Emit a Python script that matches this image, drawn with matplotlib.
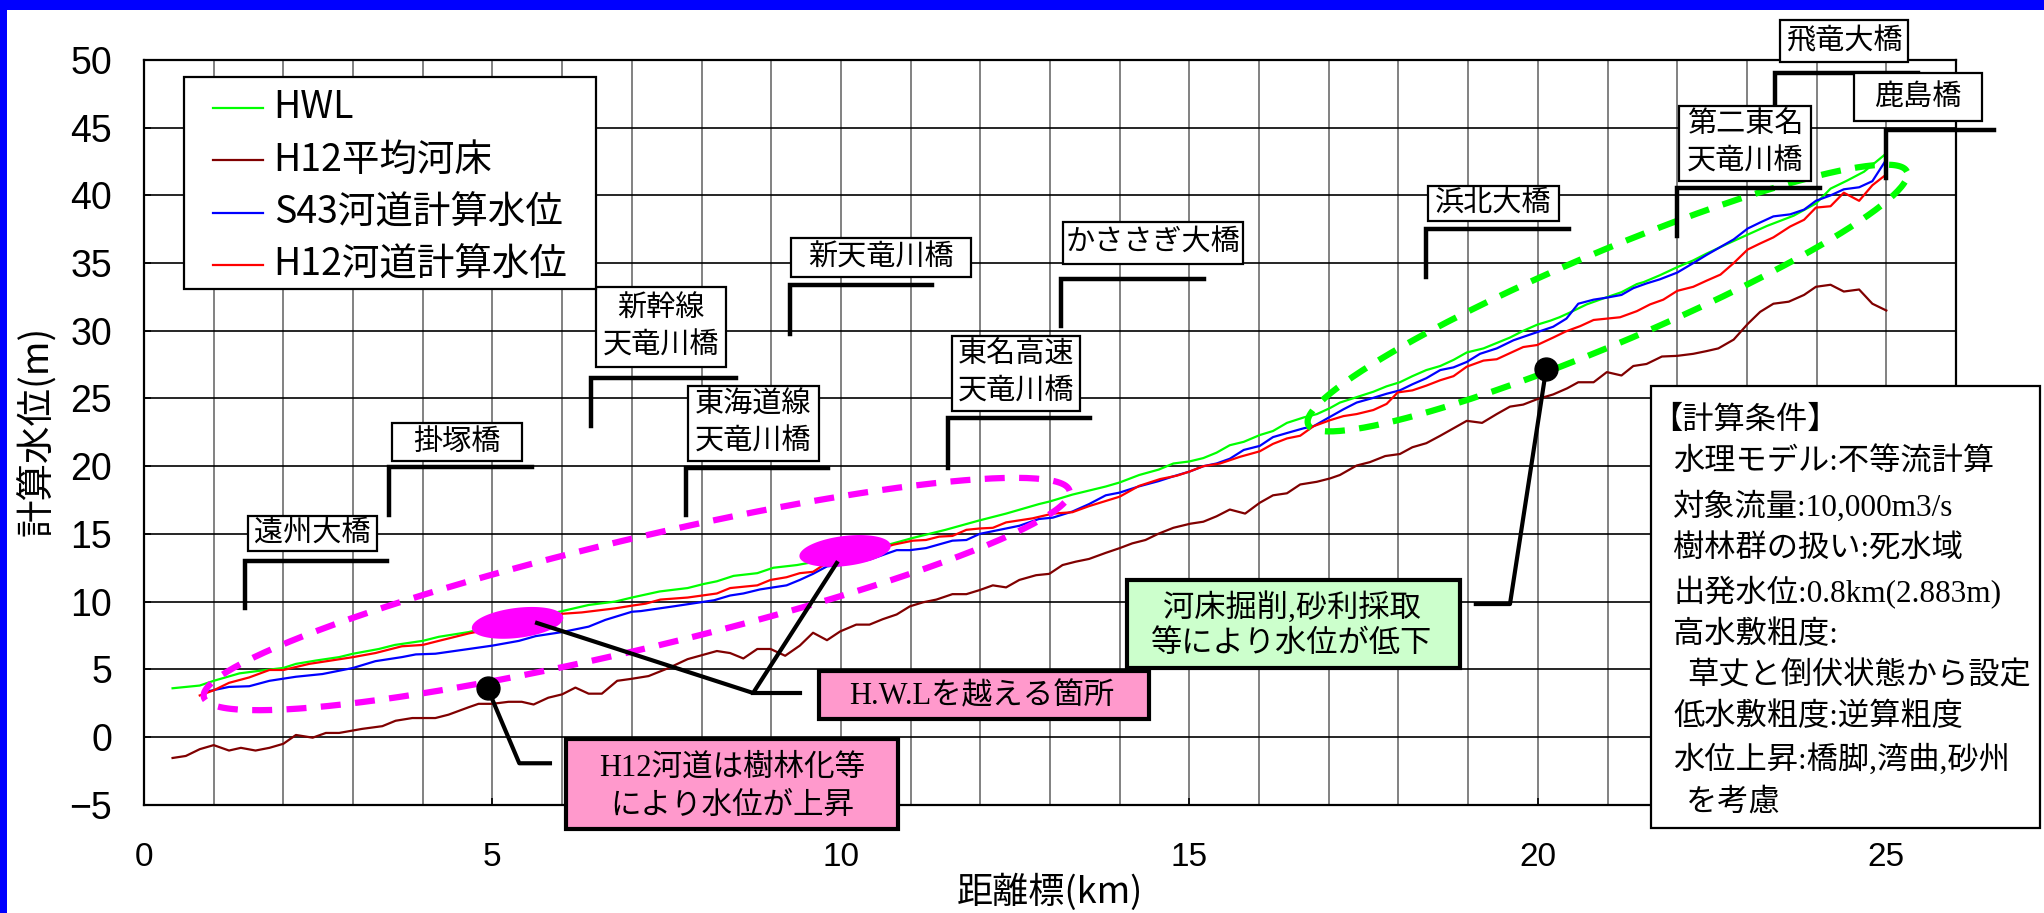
import numpy as np
import matplotlib.pyplot as plt
from matplotlib.patches import Rectangle
from matplotlib.lines import Line2D

SANS = ['Noto Sans CJK JP', 'DejaVu Sans']
MIX = ['Liberation Serif', 'Noto Sans CJK JP']   # ascii in serif, kana/kanji in gothic
plt.rcParams['font.family'] = SANS

# ---- data (km, m) ----
hwl_km = [0.41, 0.8, 1.0, 1.37, 1.75, 2.0, 2.18, 2.47, 2.8, 3.0, 3.37, 3.6, 4.0, 4.23, 4.66, 5.0, 5.5,
          6.0, 6.38, 6.76, 7.0, 7.4, 7.8, 8.03, 8.22, 8.46, 8.8, 9.03, 9.37, 10.0, 10.75, 11.03, 11.5,
          11.99, 12.37, 12.84, 13.0, 13.32, 13.8, 14.0, 14.28, 14.56, 14.77, 15.0, 15.2, 15.39, 15.58,
          15.78, 16.01, 16.2, 16.4, 16.64, 16.83, 17.02, 17.16, 17.4, 17.64, 17.83, 18.02, 18.2, 18.4,
          18.6, 18.79, 18.98, 19.22, 19.41, 19.6, 19.79, 19.99, 20.18, 20.31, 20.46, 20.7, 21.0, 21.2,
          21.42, 21.52, 21.75, 22.0, 22.23, 22.42, 22.71, 23.01, 23.29, 23.67, 23.99, 24.2, 24.44,
          24.68, 25.0]
hwl = [3.6, 3.8, 4.15, 4.7, 4.95, 5.1, 5.4, 5.65, 5.9, 6.15, 6.5, 6.8, 7.1, 7.4, 7.75, 8.2, 8.7,
       9.3, 9.75, 10.0, 10.3, 10.75, 11.0, 11.3, 11.5, 11.9, 12.1, 12.5, 12.7, 13.3, 14.3, 14.7, 15.3,
       16.0, 16.5, 17.2, 17.4, 17.9, 18.5, 18.8, 19.35, 19.75, 20.2, 20.35, 20.6, 21.0, 21.55,
       21.8, 22.3, 22.6, 23.2, 23.6, 23.85, 24.3, 24.7, 25.1, 25.5, 25.9, 26.2, 26.65, 27.1,
       27.4, 27.85, 28.4, 28.7, 29.1, 29.5, 30.0, 30.45, 30.75, 31.0, 31.35, 31.95, 32.5, 32.85,
       33.45, 33.6, 34.1, 34.7, 35.2, 35.7, 36.4, 37.1, 37.75, 38.5, 39.4, 40.5, 41.1,
       41.75, 43.1]

bed_km = [0.41, 0.6, 0.8, 1.0, 1.22, 1.39, 1.6, 1.8, 2.0, 2.18, 2.42, 2.61, 2.8, 3.13, 3.42, 3.61,
          3.85, 4.18, 4.37, 4.66, 4.8, 5.0, 5.23, 5.42, 5.59, 5.8, 6.0, 6.19, 6.38, 6.57, 6.79, 7.0,
          7.24, 7.53, 7.8, 8.22, 8.41, 8.6, 8.8, 8.99, 9.2, 9.41, 9.6, 9.8, 9.99, 10.22, 10.41, 10.6,
          10.8, 10.99, 11.18, 11.37, 11.6, 11.8, 11.99, 12.18, 12.37, 12.56, 12.8, 12.99, 13.18,
          13.37, 13.56, 13.8, 14.0, 14.18, 14.37, 14.55, 14.77, 15.01, 15.2, 15.39, 15.58, 15.8,
          16.01, 16.2, 16.4, 16.59, 16.83, 17.02, 17.16, 17.4, 17.59, 17.81, 18.02, 18.2, 18.4, 18.6,
          18.79, 18.98, 19.2, 19.41, 19.6, 19.79, 19.99, 20.22, 20.42, 20.58, 20.8, 20.99, 21.2,
          21.37, 21.56, 21.78, 22.0, 22.23, 22.42, 22.59, 22.81, 23.01, 23.19, 23.38, 23.6, 23.82,
          23.99, 24.2, 24.39, 24.61, 24.8, 25.0]
bed = [-1.55, -1.4, -0.9, -0.6, -1.0, -0.8, -1.0, -0.8, -0.5, 0.15, -0.05, 0.3, 0.3, 0.6, 0.8, 1.2,
       1.4, 1.4, 1.65, 2.2, 2.45, 2.45, 2.6, 2.6, 2.4, 2.9, 3.15, 3.65, 3.2, 3.2, 4.15, 4.3,
       4.5, 5.1, 5.75, 6.35, 6.2, 5.8, 6.5, 6.5, 6.0, 6.75, 7.7, 7.15, 7.8, 8.3, 8.3, 8.7,
       9.05, 9.65, 9.95, 10.15, 10.55, 10.55, 10.85, 11.2, 11.05, 11.6, 11.95, 12.05, 12.7,
       12.95, 13.15, 13.6, 13.95, 14.3, 14.55, 15.0, 15.45, 15.75, 15.9, 16.3, 16.8, 16.5,
       17.3, 17.85, 18.0, 18.65, 18.85, 19.1, 19.35, 20.05, 20.3, 20.75, 20.9, 21.4, 21.7, 22.25,
       22.8, 23.35, 23.2, 23.85, 24.4, 24.55, 24.95, 25.3, 25.75, 26.2, 26.2, 26.95, 26.7,
       27.4, 27.55, 28.1, 28.15, 28.3, 28.5, 28.7, 29.35, 30.5, 31.4, 32.0, 32.15, 32.65,
       33.25, 33.4, 32.9, 33.05, 32.0, 31.5]

s43_km = [0.94, 1.22, 1.51, 1.8, 2.18, 2.56, 3.0, 3.32, 3.7, 3.9, 4.18, 4.66, 5.0, 5.38, 5.62, 6.0,
          6.38, 6.62, 7.0, 7.13, 7.6, 8.18, 8.41, 8.6, 8.84, 9.22, 9.41, 9.6, 9.8, 9.99, 10.41, 10.8,
          10.99, 11.22, 11.6, 11.8, 11.99, 12.18, 12.37, 12.56, 12.84, 13.04, 13.32, 13.56, 13.8,
          14.0, 14.27, 14.56, 14.77, 15.0, 15.2, 15.39, 15.58, 15.78, 16.01, 16.2, 16.4, 16.64,
          16.78, 17.02, 17.21, 17.4, 17.64, 17.83, 18.02, 18.2, 18.4, 18.6, 18.79, 18.98, 19.17,
          19.41, 19.65, 19.79, 19.99, 20.22, 20.41, 20.58, 20.8, 20.99, 21.2, 21.37, 21.56, 21.75,
          22.0, 22.23, 22.42, 22.81, 23.01, 23.19, 23.38, 23.62, 23.82, 23.99, 24.2, 24.39, 24.61,
          24.8, 25.0]
s43 = [3.4, 3.7, 3.75, 4.15, 4.45, 4.65, 5.1, 5.6, 5.9, 6.1, 6.15, 6.5, 6.75, 7.1, 7.45, 7.75,
       8.15, 8.65, 9.25, 9.3, 9.65, 10.1, 10.45, 10.6, 10.9, 11.2, 11.6, 12.05, 12.6, 12.7, 13.1, 13.8,
       13.8, 13.95, 14.5, 14.55, 15.0, 15.2, 15.4, 15.6, 16.1, 16.2, 16.65, 17.2, 17.85,
       18.05, 18.5, 18.9, 19.25, 19.6, 20.0, 20.2, 20.55, 21.2, 21.5, 22.15, 22.45, 22.8,
       22.95, 23.65, 24.2, 24.7, 25.05, 25.35, 25.6, 26.05, 26.5, 27.1, 27.3, 27.7, 28.3,
       28.7, 29.3, 29.55, 29.9, 30.3, 30.9, 32.0, 32.3, 32.45, 32.65, 33.15, 33.5, 33.8,
       34.3, 35.0, 35.6, 36.75, 37.55, 38.0, 38.45, 38.6, 38.95, 39.6, 40.0, 40.45, 40.6,
       41.05, 42.65]

h12_km = [0.8, 1.0, 1.22, 1.51, 1.8, 2.0, 2.37, 2.75, 3.0, 3.32, 3.7, 4.0, 4.23, 4.66, 5.0, 5.5,
          6.0, 6.28, 6.76, 7.0, 7.2, 7.41, 7.8, 8.22, 8.41, 8.8, 8.99, 9.22, 9.41, 9.6, 9.75, 10.2,
          10.75, 11.03, 11.22, 11.41, 11.6, 11.8, 11.99, 12.18, 12.37, 12.75, 13.04, 13.32, 13.56,
          14.0, 14.28, 14.58, 14.82, 15.0, 15.2, 15.44, 15.73, 16.01, 16.2, 16.4, 16.59, 16.78,
          17.02, 17.21, 17.4, 17.64, 17.83, 17.99, 18.2, 18.4, 18.6, 18.79, 18.98, 19.22, 19.41,
          19.6, 19.79, 19.99, 20.22, 20.4, 20.61, 20.8, 20.99, 21.18, 21.42, 21.61, 21.8, 22.0,
          22.23, 22.42, 22.62, 22.81, 23.01, 23.19, 23.38, 23.62, 23.82, 23.99, 24.2, 24.39, 24.61,
          24.8, 25.0]
h12 = [3.07, 3.45, 4.0, 4.4, 4.95, 4.95, 5.4, 5.7, 5.9, 6.2, 6.7, 6.8, 7.1, 7.65, 8.0, 8.6,
       9.1, 9.2, 9.5, 9.7, 9.85, 10.15, 10.3, 10.6, 11.0, 11.2, 11.6, 11.8, 12.1, 12.2, 12.7, 13.3,
       14.2, 14.5, 14.55, 14.8, 14.85, 15.3, 15.4, 15.45, 15.85, 16.15, 16.5, 16.6, 17.05,
       17.75, 18.55, 19.05, 19.3, 19.6, 20.0, 20.2, 20.7, 21.1, 21.65, 22.05, 22.25, 22.95,
       23.4, 23.7, 23.85, 24.15, 24.6, 25.45, 25.6, 25.95, 26.35, 26.65, 27.35, 27.8, 27.9,
       28.35, 28.8, 28.95, 29.5, 29.95, 30.35, 30.8, 30.9, 31.0, 31.45, 31.95, 32.3, 32.95,
       33.25, 33.7, 34.15, 35.0, 36.0, 36.45, 36.9, 37.7, 38.2, 39.1, 39.2, 40.2, 39.6,
       40.75, 41.55]

series_labels = ['HWL', 'H12平均河床', 'S43河道計算水位', 'H12河道計算水位']
series_colors = ['#00ff00', '#800000', '#0000ff', '#ff0000']

bridge_names = ['遠州大橋', '掛塚橋', '新幹線\n天竜川橋', '東海道線\n天竜川橋', '新天竜川橋',
                '東名高速\n天竜川橋', 'かささぎ大橋', '浜北大橋', '第二東名\n天竜川橋', '飛竜大橋', '鹿島橋']
bridge_km = [1.45, 3.52, 6.42, 7.77, 9.27, 11.53, 13.16, 18.39, 22.0, 23.41, 25.0]

cond_lines = ['【計算条件】', '水理モデル:不等流計算', '対象流量:10,000m3/s', '樹林群の扱い:死水域',
              '出発水位:0.8km(2.883m)', '高水敷粗度:', '草丈と倒伏状態から設定', '低水敷粗度:逆算粗度',
              '水位上昇:橋脚,湾曲,砂州', 'を考慮']

# bracket (top, bottom, right end) and label box (x0, x1, y0, y1) for each bridge
bridge_layout = [
    (13.0, 9.5, 3.49, 1.49, 3.35, 13.74, 16.34),
    (19.97, 16.4, 5.57, 3.555, 5.42, 20.41, 23.21),
    (26.54, 23.0, 8.49, 6.48, 8.35, 27.3, 33.21),
    (19.85, 16.4, 9.81, 7.80, 9.68, 20.41, 25.94),
    (33.4, 29.76, 11.30, 9.29, 11.86, 33.95, 36.88),
    (23.54, 19.9, 13.57, 11.59, 13.43, 24.08, 29.62),
    (33.83, 30.35, 15.21, 13.19, 15.77, 34.93, 38.06),
    (37.5, 34.0, 20.45, 18.42, 20.30, 38.09, 40.67),
    (40.55, 37.0, 24.05, 22.03, 23.92, 41.1, 46.6),
    (49.05, 46.7, 25.45, 23.48, 25.31, 49.83, 52.92),
    (44.8, 41.3, 26.55, 24.54, 26.37, 45.53, 49.05),
]


def tilted_ellipse(ax, cx, cy, a, b, ang, n=240):
    # ellipse drawn in pixel space so the tilt looks right, returned in data coords
    x0, y0 = ax.transData.transform((cx, cy))
    t = np.linspace(0, 2 * np.pi, n)
    th = np.radians(ang)
    px = x0 + a * np.cos(t) * np.cos(th) - b * np.sin(t) * np.sin(th)
    py = y0 + a * np.cos(t) * np.sin(th) + b * np.sin(t) * np.cos(th)
    d = ax.transData.inverted().transform(np.column_stack([px, py]))
    return d[:, 0], d[:, 1]


W, H = 2044, 913
fig = plt.figure(figsize=(W / 100, H / 100), dpi=100)
ax = fig.add_axes([144 / W, 1 - 804.7 / H, (1956 - 144) / W, (804.7 - 60) / H])
ax.set_xlim(0, 26)
ax.set_ylim(-5, 50)

ax.set_xticks(range(0, 26, 5))
ax.set_xticks(np.arange(0, 27, 1), minor=True)
ax.set_yticks(range(-5, 51, 5))
ax.set_yticklabels(['−5' if v < 0 else str(v) for v in range(-5, 51, 5)])
ax.grid(which='both', axis='x', color='#777777', lw=1.3, zorder=0)
ax.grid(which='major', axis='y', color='black', lw=1.2, zorder=0)
ax.set_axisbelow(True)
ax.tick_params(which='major', direction='in', length=5, width=1.2)
ax.tick_params(which='minor', length=0)
ax.tick_params(axis='x', pad=27)
ax.tick_params(axis='y', pad=23)
for lab in ax.get_xticklabels():
    lab.set_fontfamily('Liberation Sans')
    lab.set_fontsize(24)
for lab in ax.get_yticklabels():
    lab.set_fontfamily('Liberation Sans')
    lab.set_fontsize(27)
for sp in ax.spines.values():
    sp.set_linewidth(1.6)

ax.set_xlabel('距離標(km)', fontsize=26)
ax.xaxis.set_label_coords(0.5, -0.117)
ax.xaxis.label.set_va('center')
ax.set_ylabel('計算水位(m)', fontsize=27)
ax.yaxis.set_label_coords(-0.059, 0.502)
ax.yaxis.label.set_va('center')

# curves
for xs, ys, c in zip([hwl_km, bed_km, s43_km, h12_km], [hwl, bed, s43, h12], series_colors):
    ax.plot(xs, ys, color=c, lw=1.6, zorder=2)

# dashed ellipses
ex, ey = tilted_ellipse(ax, 7.07, 10.56, 445, 55, 13.4)
ax.plot(ex, ey, color='#ff00ff', lw=4.5, ls=(0, (3.2, 2.3)), zorder=3, clip_on=False)
ex, ey = tilted_ellipse(ax, 21.0, 32.42, 325, 46, 22.9)
ax.plot(ex, ey, color='#00ff00', lw=4.5, ls=(0, (3.2, 2.3)), zorder=3, clip_on=False)

# solid spots where H12 goes over HWL
for cx, cy in [(5.36, 8.43), (10.06, 13.74)]:
    ex, ey = tilted_ellipse(ax, cx, cy, 46, 15, 7)
    ax.fill(ex, ey, color='#ff00ff', lw=0, zorder=4)

# leader lines and dots
ax.plot([5.64, 8.74, 9.94], [8.42, 3.25, 12.85], color='black', lw=3, zorder=5)
ax.plot([8.74, 9.41], [3.25, 3.25], color='black', lw=3, zorder=5)
ax.plot([4.93, 5.385, 5.825], [3.6, -1.94, -1.94], color='black', lw=3, zorder=5, clip_on=False)
ax.plot([20.12, 19.60, 19.11], [27.2, 9.82, 9.82], color='black', lw=3, zorder=5)
ax.plot([4.93, 20.12], [3.6, 27.2], 'o', color='black', ms=16.5, zorder=6)

# bridges
for name, km, (top, bot, right, x0, x1, y0, y1) in zip(bridge_names, bridge_km, bridge_layout):
    ax.plot([km, km, right], [bot, top, top], color='black', lw=3.2, zorder=5,
            solid_joinstyle='miter', clip_on=False)
    ax.add_patch(Rectangle((x0, y0), x1 - x0, y1 - y0, facecolor='white', edgecolor='black',
                           lw=1.6, zorder=7, clip_on=False))
    rows = name.split('\n')
    mid = (y0 + y1) / 2
    offs = [0.0] if len(rows) == 1 else [1.35, -1.35]
    for r, o in zip(rows, offs):
        ax.text((x0 + x1) / 2, mid + o, r, fontsize=21, ha='center', va='center', zorder=8)

# callout boxes
ax.add_patch(Rectangle((6.06, -6.79), 4.76, 6.62, facecolor='#ff99cc', edgecolor='black',
                       lw=3, zorder=7, clip_on=False))
ax.text(8.44, -2.31, 'H12河道は樹林化等', family=MIX, fontsize=22, ha='center', va='center', zorder=8)
ax.text(8.44, -5.14, 'により水位が上昇', family=MIX, fontsize=22, ha='center', va='center', zorder=8)

ax.add_patch(Rectangle((9.68, 1.31), 4.74, 3.59, facecolor='#ff99cc', edgecolor='black',
                       lw=3, zorder=7))
ax.text(12.02, 2.98, 'H.W.Lを越える箇所', family=MIX, fontsize=22, ha='center', va='center', zorder=8)

ax.add_patch(Rectangle((14.10, 5.07), 4.78, 6.53, facecolor='#ccffcc', edgecolor='black',
                       lw=3, zorder=7))
ax.text(16.47, 9.5, '河床掘削,砂利採取', family=MIX, fontsize=22.5, ha='center', va='center', zorder=8)
ax.text(16.47, 6.8, '等により水位が低下', family=MIX, fontsize=22.5, ha='center', va='center', zorder=8)

# calculation conditions
ax.add_patch(Rectangle((21.62, -6.7), 5.58, 32.65, facecolor='white', edgecolor='black',
                       lw=1.6, zorder=7, clip_on=False))
cond_y = [23.34, 20.2, 17.0, 13.81, 10.69, 7.53, 4.48, 1.46, -1.66, -4.86]
cond_x = [21.62, 21.94, 21.94, 21.94, 21.94, 21.94, 22.15, 21.94, 21.94, 22.13]
for t, x, y in zip(cond_lines, cond_x, cond_y):
    ax.text(x, y, t, family=MIX, fontsize=22.5, ha='left', va='center', zorder=8, clip_on=False)


# legend box, drawn by hand in pixel positions so the spacing follows the original
def fx(px):
    return px / W


def fy(py):
    return 1 - py / H


fig.add_artist(Rectangle((fx(183.5), fy(289)), fx(596) - fx(183.5), fy(77) - fy(289),
                         transform=fig.transFigure, facecolor='white', edgecolor='black',
                         lw=1.6, zorder=10))
for i, (lab, c) in enumerate(zip(series_labels, series_colors)):
    yy = fy(107.7 + 52.5 * i)
    fig.add_artist(Line2D([fx(212.5), fx(262.5)], [yy, yy], transform=fig.transFigure,
                          color=c, lw=1.6, zorder=11))
    fig.text(fx(273.7), yy, lab, fontsize=27, ha='left', va='center', zorder=11)

# blue frame of the original slide
fig.add_artist(Rectangle((0, fy(10.5)), 1, 10.5 / H, transform=fig.transFigure,
                         facecolor='#0000ff', edgecolor='none', zorder=20))
fig.add_artist(Rectangle((0, 0), 7 / W, 1, transform=fig.transFigure,
                         facecolor='#0000ff', edgecolor='none', zorder=20))

fig.savefig('out.png', dpi=100)
